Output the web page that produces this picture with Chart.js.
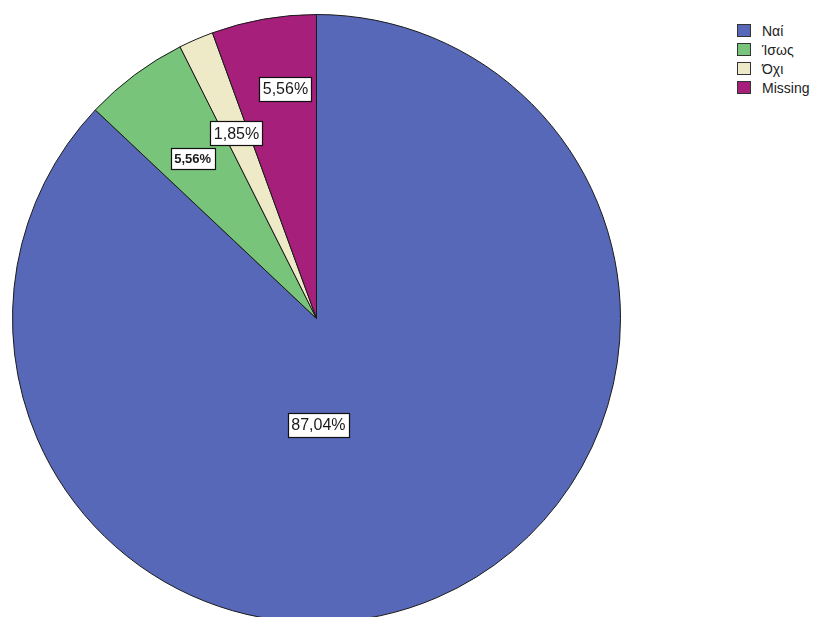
<!DOCTYPE html>
<html>
<head>
<meta charset="utf-8">
<script src="https://cdn.jsdelivr.net/npm/chart.js@4"></script>
<style>
  html, body { margin: 0; padding: 0; width: 819px; height: 617px; overflow: hidden; background: #fff; }
  #pieBox { position: absolute; left: 12px; top: 14px; width: 609px; height: 609px; }
  #legend { position: absolute; left: 737px; top: 21px; font-family: "Liberation Sans", Arial, sans-serif; font-size: 14px; color: #222; }
  .row { display: flex; align-items: center; height: 19px; }
  .sw { width: 12px; height: 11px; border: 1px solid #333; margin-right: 11px; }
</style>
</head>
<body>
<div id="pieBox"><canvas id="c"></canvas></div>
<div id="legend"></div>
<script>
// Answer categories and their shares (%)
const categories = ['Ναί', 'Ίσως', 'Όχι', 'Missing'];
const shares = [87.04, 5.56, 1.85, 5.56];
const sliceColors = ['#5868b8', '#78c47a', '#eee9c6', '#a61f7a'];

// Label placement: angular offset from the slice middle (deg) and distance as a fraction of the radius
const labelPlacement = [
  { dAngle: 22.3, dist: 0.35, font: 16, bold: false },
  { dAngle: -1.1, dist: 0.665, font: 13, bold: true },
  { dAngle: 0, dist: 0.664, font: 16, bold: false },
  { dAngle: 2.3, dist: 0.762, font: 16, bold: false }
];

const fmt = v => v.toFixed(2).replace('.', ',') + '%';

const boxLabels = {
  id: 'boxLabels',
  afterDatasetsDraw(chart) {
    const ctx = chart.ctx;
    const meta = chart.getDatasetMeta(0);
    meta.data.forEach((arc, i) => {
      const p = labelPlacement[i];
      const mid = (arc.startAngle + arc.endAngle) / 2 + p.dAngle * Math.PI / 180;
      const r = arc.outerRadius * p.dist;
      const x = arc.x + Math.cos(mid) * r;
      const y = arc.y + Math.sin(mid) * r;
      const text = fmt(chart.data.datasets[0].data[i]);
      ctx.save();
      ctx.font = (p.bold ? 'bold ' : '') + p.font + 'px "Liberation Sans", Arial, sans-serif';
      const w = ctx.measureText(text).width + 7;
      const h = p.font + 8;
      ctx.fillStyle = '#ffffff';
      ctx.fillRect(Math.round(x - w / 2) + 0.5, Math.round(y - h / 2) + 0.5, Math.round(w), h);
      ctx.strokeStyle = '#111';
      ctx.lineWidth = 1.2;
      ctx.strokeRect(Math.round(x - w / 2) + 0.5, Math.round(y - h / 2) + 0.5, Math.round(w), h);
      ctx.fillStyle = '#1a1a1a';
      ctx.textAlign = 'center';
      ctx.textBaseline = 'middle';
      ctx.fillText(text, x, y + 1);
      ctx.restore();
    });
  }
};

new Chart(document.getElementById('c'), {
  type: 'pie',
  data: {
    labels: categories,
    datasets: [{
      data: shares,
      backgroundColor: sliceColors,
      borderColor: '#1a1a1a',
      borderWidth: 1
    }]
  },
  options: {
    responsive: true,
    maintainAspectRatio: false,
    animation: false,
    layout: { padding: 0 },
    plugins: {
      legend: { display: false },
      tooltip: { enabled: false }
    }
  },
  plugins: [boxLabels]
});

// Legend built from the same categories and colours
const legend = document.getElementById('legend');
categories.forEach((name, i) => {
  const row = document.createElement('div');
  row.className = 'row';
  const sw = document.createElement('div');
  sw.className = 'sw';
  sw.style.background = sliceColors[i];
  const label = document.createElement('span');
  label.textContent = name;
  row.appendChild(sw);
  row.appendChild(label);
  legend.appendChild(row);
});
</script>
</body>
</html>
